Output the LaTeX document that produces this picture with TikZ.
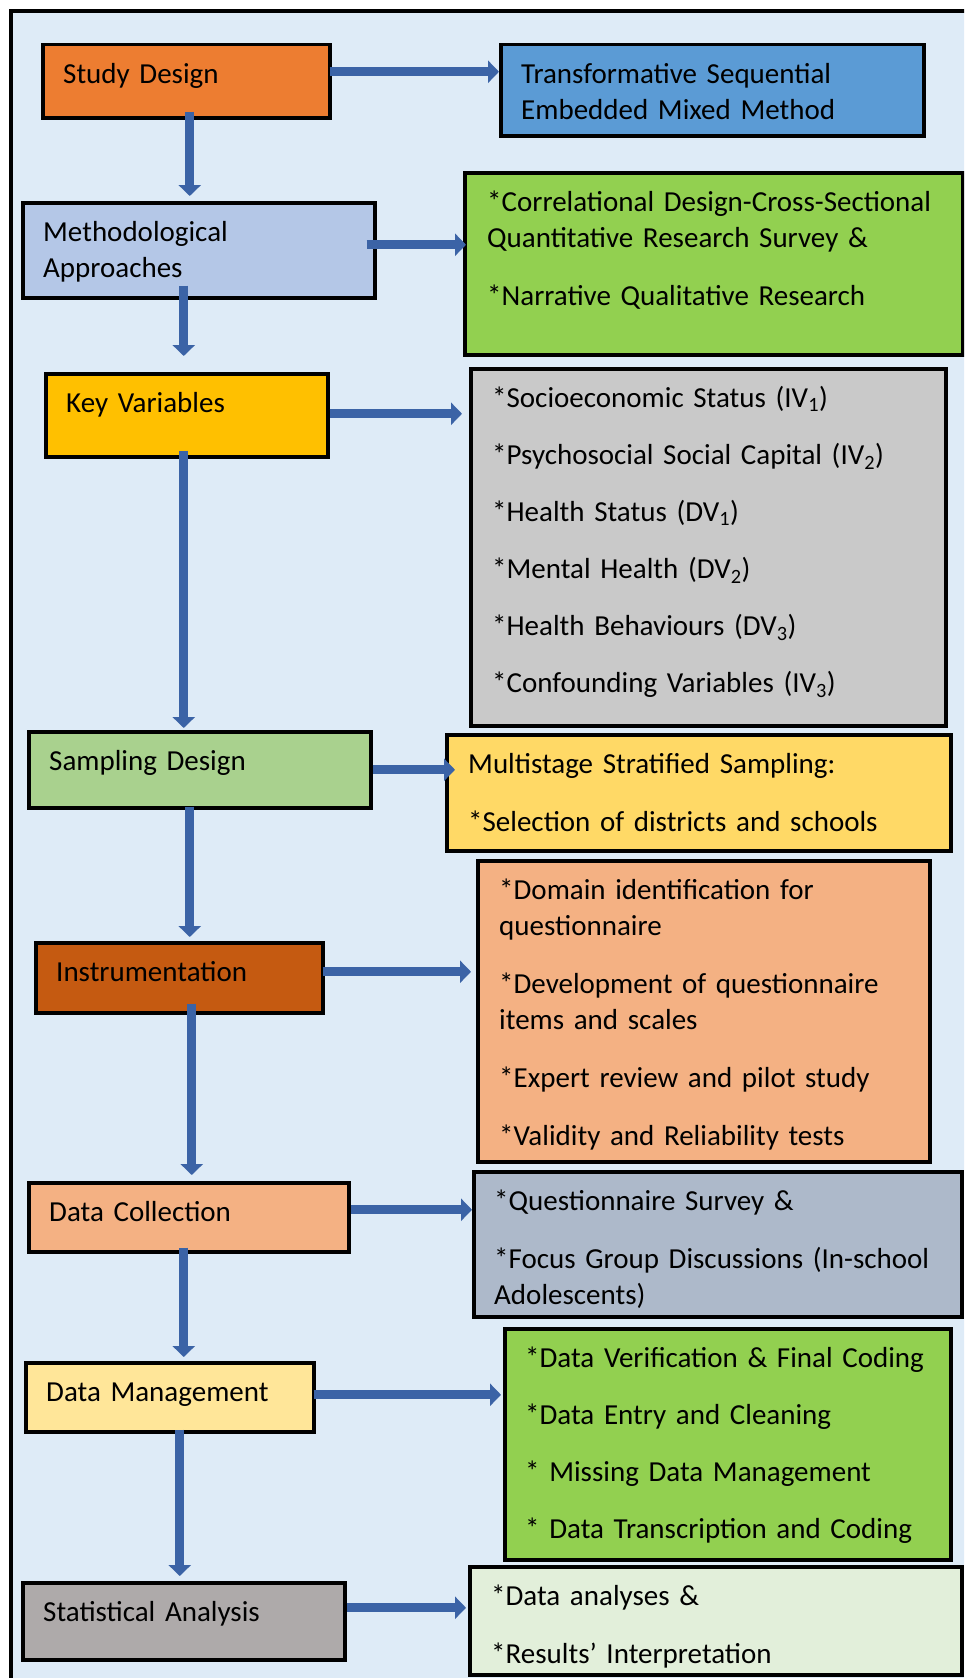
\documentclass[tikz,border=0pt]{standalone}
\usepackage{fontspec}
\setmainfont{Carlito}
\usetikzlibrary{arrows.meta,positioning}

\definecolor{pageblue}{HTML}{DEEBF7}
\definecolor{designorange}{HTML}{ED7D31}
\definecolor{methodblue}{HTML}{5B9BD5}
\definecolor{approachblue}{HTML}{B4C7E7}
\definecolor{lime}{HTML}{92D050}
\definecolor{amber}{HTML}{FFC000}
\definecolor{variablegray}{HTML}{C9C9C9}
\definecolor{samplegreen}{HTML}{A9D18E}
\definecolor{sampleyellow}{HTML}{FFD966}
\definecolor{rust}{HTML}{C55A11}
\definecolor{peach}{HTML}{F4B183}
\definecolor{slate}{HTML}{ADB9CA}
\definecolor{cream}{HTML}{FFE699}
\definecolor{taupe}{HTML}{AEAAAA}
\definecolor{palegreen}{HTML}{E2EFDA}
\definecolor{flowblue}{HTML}{3B63A6}

\tikzset{
  stage/.style={draw=black, line width=3.5pt, anchor=north west, inner sep=0pt},
  note/.style={anchor=base west, inner sep=0pt, align=left, text width=480pt,
    font=\fontsize{29}{36}\selectfont},
  flow/.style={draw=flowblue, line width=9pt, -{Triangle[width=22pt,length=11pt]}},
}

\begin{document}
\begin{tikzpicture}[x=1pt,y=-1pt]
        \useasboundingbox (0,0) rectangle (964,1678);
        \clip (0,0) rectangle (964,1678);
        % Frame
        \draw[line width=3.5pt, fill=pageblue] (11,11) rectangle (1010,1720);
        % Left column
        \node[stage, fill=designorange, minimum width=287pt, minimum height=73pt] (design) at (41,43) {};
        \node[stage, fill=approachblue, minimum width=352pt, minimum height=95pt] (approach) at (21,201) {};
        \node[stage, fill=amber, minimum width=282pt, minimum height=83pt] (keyvar) at (44,372) {};
        \node[stage, fill=samplegreen, minimum width=342pt, minimum height=76pt] (sampling) at (27,730) {};
        \node[stage, fill=rust, minimum width=287pt, minimum height=70pt] (instr) at (34,941) {};
        \node[stage, fill=peach, minimum width=320pt, minimum height=69pt] (collection) at (27,1181) {};
        \node[stage, fill=cream, minimum width=288pt, minimum height=69pt] (management) at (24,1361) {};
        \node[stage, fill=taupe, minimum width=322pt, minimum height=77pt] (analysis) at (21,1581) {};
        % Right column
        \node[stage, fill=methodblue, minimum width=423pt, minimum height=91pt] (tsemm) at (499,43) {};
        \node[stage, fill=lime, minimum width=498pt, minimum height=182pt] (designs) at (463,171) {};
        \node[stage, fill=variablegray, minimum width=475pt, minimum height=357pt] (variables) at (469,367) {};
        \node[stage, fill=sampleyellow, minimum width=504pt, minimum height=116pt] (stratified) at (445,733) {};
        \node[stage, fill=peach, minimum width=452pt, minimum height=301pt] (procedures) at (476,859) {};
        \node[stage, fill=slate, minimum width=488pt, minimum height=145pt] (methods) at (472,1170) {};
        \node[stage, fill=lime, minimum width=446pt, minimum height=231pt] (processing) at (503,1327) {};
        \node[stage, fill=palegreen, minimum width=492pt, minimum height=108pt] (results) at (468,1565) {};
        % Labels
        \node[note] (designtxt) at ([xshift=22pt,yshift=-40.5pt]design.north west) {Study Design};
        \node[note] (approachtxt) at ([xshift=22pt,yshift=-40.5pt]approach.north west) {Methodological\\Approaches};
        \node[note] (keyvartxt) at ([xshift=22pt,yshift=-40.5pt]keyvar.north west) {Key Variables};
        \node[note] (samplingtxt) at ([xshift=22pt,yshift=-40.5pt]sampling.north west) {Sampling Design};
        \node[note] (instrtxt) at ([xshift=22pt,yshift=-40.5pt]instr.north west) {Instrumentation};
        \node[note] (collectiontxt) at ([xshift=22pt,yshift=-40.5pt]collection.north west) {Data Collection};
        \node[note] (managementtxt) at ([xshift=22pt,yshift=-40.5pt]management.north west) {Data Management};
        \node[note] (analysistxt) at ([xshift=22pt,yshift=-40.5pt]analysis.north west) {Statistical Analysis};
        \node[note] (tsemmtxt) at ([xshift=22pt,yshift=-40.5pt]tsemm.north west) {Transformative Sequential\\Embedded Mixed Method};
        \node[note] (designstxt) at ([xshift=24pt,yshift=-40.5pt]designs.north west)
          {*Correlational Design-Cross-Sectional\\Quantitative Research Survey \&\\[22pt]*Narrative Qualitative Research};
        \node[note] (variablestxt) at ([xshift=23pt,yshift=-40.5pt]variables.north west)
          {*Socioeconomic Status (IV\textsubscript{1})\\[21pt]*Psychosocial Social Capital (IV\textsubscript{2})\\[21pt]%
           *Health Status (DV\textsubscript{1})\\[21pt]*Mental Health (DV\textsubscript{2})\\[21pt]%
           *Health Behaviours (DV\textsubscript{3})\\[21pt]*Confounding Variables (IV\textsubscript{3})};
        \node[note] (stratifiedtxt) at ([xshift=23pt,yshift=-40.5pt]stratified.north west)
          {Multistage Stratified Sampling:\\[22pt]*Selection of districts and schools};
        \node[note] (procedurestxt) at ([xshift=23pt,yshift=-40.5pt]procedures.north west)
          {*Domain identification for\\questionnaire\\[22pt]*Development of questionnaire\\items and scales\\[22pt]%
           *Expert review and pilot study\\[22pt]*Validity and Reliability tests};
        \node[note] (methodstxt) at ([xshift=22pt,yshift=-40.5pt]methods.north west)
          {*Questionnaire Survey \&\\[22pt]*Focus Group Discussions (In-school\\Adolescents)};
        \node[note] (processingtxt) at ([xshift=22pt,yshift=-40.5pt]processing.north west)
          {*Data Verification \& Final Coding\\[21pt]*Data Entry and Cleaning\\[21pt]%
           * Missing Data Management\\[21pt]* Data Transcription and Coding};
        \begin{scope}
          \clip (results.north west) rectangle (results.south east);
          \node[note] (resultstxt) at ([xshift=23pt,yshift=-40.5pt]results.north west)
            {*Data analyses \&\\[22pt]*Results’ Interpretation};
        \end{scope}
        % Down arrows
        \draw[flow] ([xshift=3.5pt,yshift=8pt]design.south) -- ([xshift=3.5pt,yshift=5pt]design.south |- approach.north);
        \draw[flow] ([xshift=-15pt,yshift=14pt]approach.south) -- ([xshift=-15pt,yshift=16pt]approach.south |- keyvar.north);
        \draw[flow] ([xshift=-3pt,yshift=8pt]keyvar.south) -- ([xshift=-3pt,yshift=2pt]keyvar.south |- sampling.north);
        \draw[flow] ([xshift=-10pt,yshift=3pt]sampling.south) -- ([xshift=-10pt,yshift=4pt]sampling.south |- instr.north);
        \draw[flow] ([xshift=12.5pt,yshift=11pt]instr.south) -- ([xshift=12.5pt,yshift=6pt]instr.south |- collection.north);
        \draw[flow] ([xshift=-5pt,yshift=6pt]collection.south) -- ([xshift=-5pt,yshift=4pt]collection.south |- management.north);
        \draw[flow] ([xshift=10pt,yshift=4pt]management.south) -- ([xshift=10pt,yshift=5pt]management.south |- analysis.north);
        % Side arrows
        \draw[flow] ([xshift=-2pt,yshift=9.5pt]design.east) -- ([yshift=9.5pt]design.east -| tsemm.west);
        \draw[flow] ([xshift=-10pt,yshift=5.5pt]approach.east) -- ([xshift=3pt,yshift=5.5pt]approach.east -| designs.west);
        \draw[flow] ([yshift=1.5pt]keyvar.east) -- ([xshift=-7pt,yshift=1.5pt]keyvar.east -| variables.west);
        \draw[flow] (sampling.east) -- ([xshift=10pt]sampling.east -| stratified.west);
        \draw[flow] ([xshift=-2pt,yshift=6pt]instr.east) -- ([xshift=-5pt,yshift=6pt]instr.east -| procedures.west);
        \draw[flow] ([yshift=7.5pt]collection.east) -- ([yshift=7.5pt]collection.east -| methods.west);
        \draw[flow] ([xshift=-2pt,yshift=2.5pt]management.east) -- ([xshift=-2pt,yshift=2.5pt]management.east -| processing.west);
        \draw[flow] ([yshift=13.5pt]analysis.east) -- ([xshift=-2pt,yshift=13.5pt]analysis.east -| results.west);
\end{tikzpicture}
\end{document}
